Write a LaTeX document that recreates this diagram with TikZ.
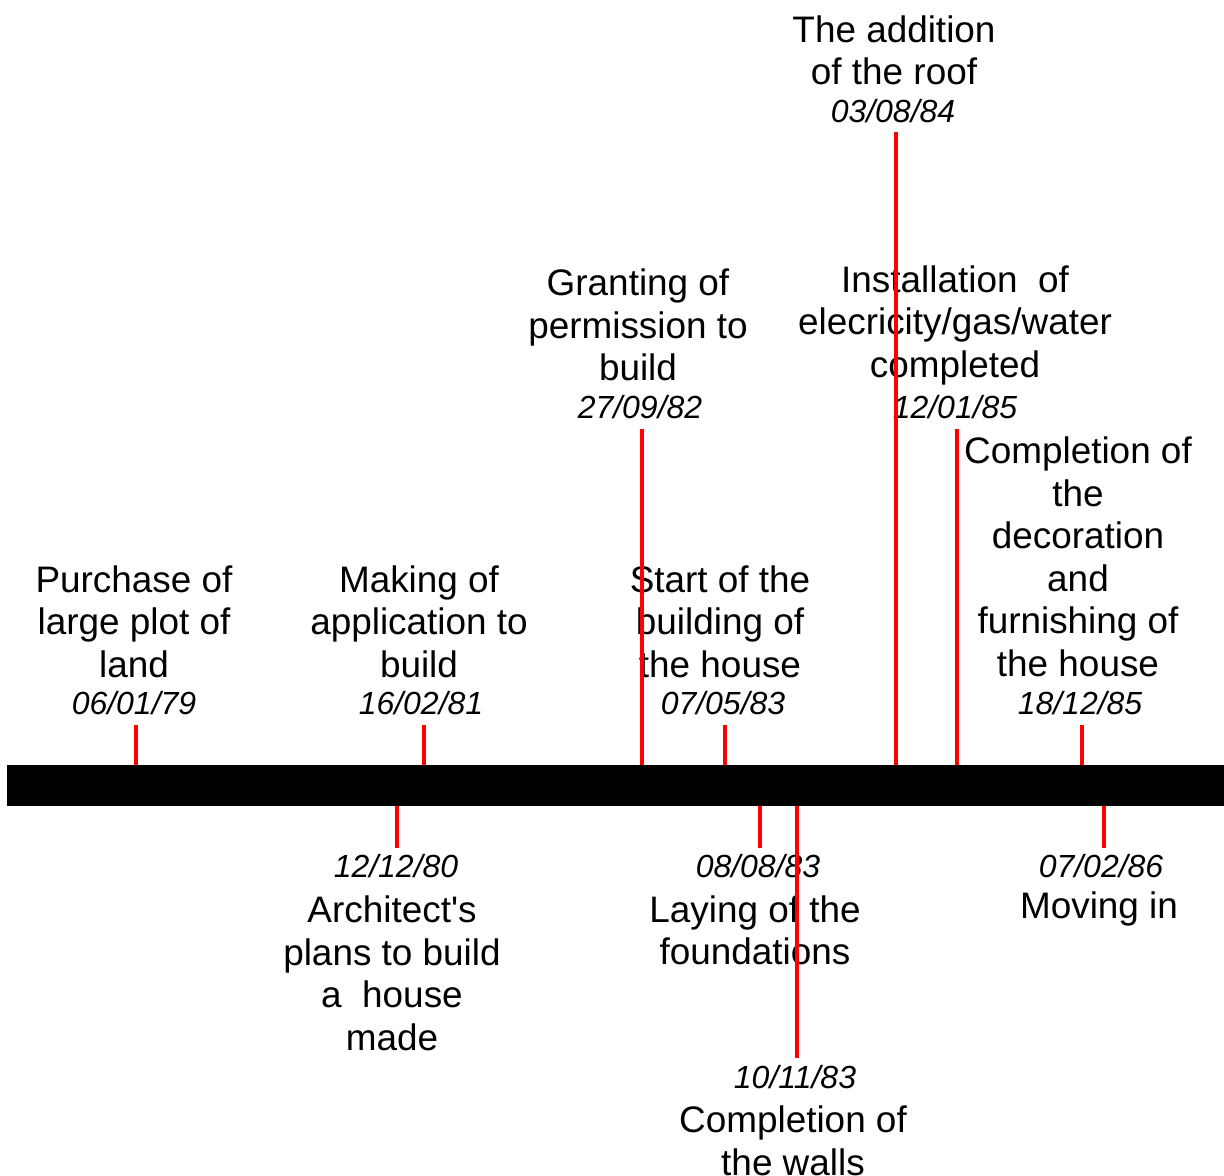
\documentclass[tikz,border=0pt]{standalone}
\usepackage{fontspec}
\newfontfamily\arialfont{Liberation Sans}
\begin{document}
\begin{tikzpicture}[x=0.02cm,y=-0.02cm,line cap=butt,
	lbl/.style={align=center,inner sep=0pt,font=\arialfont\fontsize{21pt}{24.2pt}\selectfont},
	dte/.style={inner sep=0pt,font=\arialfont\fontsize{18.2pt}{20pt}\selectfont\itshape},
	tick/.style={red,line width=1.8pt},
	bar/.style={fill=black,inner sep=0pt,minimum width=24.34cm,minimum height=0.82cm}]
	
	\useasboundingbox (0,0) rectangle (1224,1176);
	\node[bar] (bar) at (615.5,785.5) {};
	
	\node[lbl] (purchase) at (134,621.5) {Purchase of\\large plot of\\land};
	\node[dte] (d1) at (134,703) {06/01/79};
	\node[lbl] (making) at (419,621.5) {Making of\\application to\\build};
	\node[dte] (d2) at (421,703) {16/02/81};
	\node[lbl] (start) at (720,621.5) {Start of the\\building of\\the house};
	\node[dte] (d3) at (723,703) {07/05/83};
	\node[lbl] (decor) at (1078,557) {Completion of\\the\\decoration\\and\\furnishing of\\the house};
	\node[dte] (d4) at (1080,703) {18/12/85};
	\node[lbl] (grant) at (638,325) {Granting of\\permission to\\build};
	\node[dte] (d5) at (640,407) {27/09/82};
	\node[lbl] (install) at (955,325) {Installation~ of\\elecricity/gas/water\\completed};
	\node[dte] (d6) at (955,407) {12/01/85};
	\node[lbl] (roof) at (894,50.5) {The addition\\of the roof};
	\node[dte] (d7) at (893,111) {03/08/84};
	
	\node[dte] (d8) at (396,866) {12/12/80};
	\node[lbl] (plans) at (392,973.5) {Architect's\\plans to build\\a~ house\\made};
	\node[dte] (d9) at (758,866) {08/08/83};
	\node[lbl] (found) at (755,930.5) {Laying of the\\foundations};
	\node[dte] (d10) at (1101,866) {07/02/86};
	\node[lbl] (moving) at (1099,909) {Moving in};
	\node[dte] (d11) at (795,1077) {10/11/83};
	\node[lbl] (walls) at (793,1141) {Completion of\\the walls};
	
	\coordinate (k1) at (136,725);
	\coordinate (k2) at (424,725);
	\coordinate (k3) at (725,725);
	\coordinate (k4) at (1082,725);
	\coordinate (k5) at (642,429);
	\coordinate (k6) at (957,429);
	\coordinate (k7) at (896,132);
	\coordinate (k8) at (397,848);
	\coordinate (k9) at (760,848);
	\coordinate (k10) at (1104,848);
	\coordinate (k11) at (797,1058);
	
	\draw[tick] (k1)--(k1 |- bar.north) (k2)--(k2 |- bar.north)
		(k3)--(k3 |- bar.north) (k4)--(k4 |- bar.north)
		(k5)--(k5 |- bar.north) (k6)--(k6 |- bar.north)
		(k7)--(k7 |- bar.north);
	\draw[tick] (k8)--(k8 |- bar.south) (k9)--(k9 |- bar.south)
		(k10)--(k10 |- bar.south) (k11)--(k11 |- bar.south);
\end{tikzpicture}
\end{document}
